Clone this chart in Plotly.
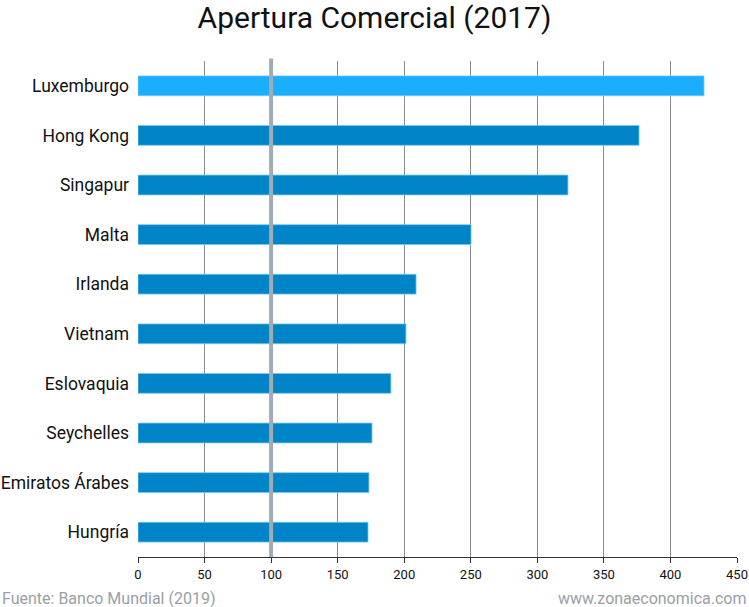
import plotly.graph_objects as go

countries = ["Luxemburgo", "Hong Kong", "Singapur", "Malta", "Irlanda", "Vietnam",
             "Eslovaquia", "Seychelles", "Emiratos Árabes", "Hungría"]
values = [425.2, 376.4, 323.0, 250.2, 208.9, 201.3, 190.0, 175.8, 173.5, 172.8]
bar_colors = ["#1aaeff"] + ["#0084c8"] * 9
tick_vals = [0, 50, 100, 150, 200, 250, 300, 350, 400, 450]
ref_value = 100

fig = go.Figure(go.Bar(
    y=countries, x=values, orientation="h", width=0.4,
    marker=dict(color=bar_colors, line=dict(color="rgba(120,200,240,0.8)", width=1)),
    hoverinfo="x+y",
))

fig.add_shape(type="line", xref="x", yref="paper", x0=ref_value, x1=ref_value,
              y0=0, y1=1.005, line=dict(color="#a3abb2", width=4), layer="above")

fig.update_layout(
    width=749, height=607,
    margin=dict(l=138, r=12, t=61, b=50),
    paper_bgcolor="white", plot_bgcolor="white",
    font=dict(family="Roboto, Liberation Sans, sans-serif", color="#111"),
    title=dict(text="Apertura Comercial (2017)", x=0.5, xanchor="center",
               y=1 - 17/607, yanchor="middle", font=dict(size=30, color="#111")),
    showlegend=False,
    xaxis=dict(range=[0, 450], tickvals=tick_vals, showgrid=True, gridcolor="#8a8a8a",
               gridwidth=1, zeroline=False, showline=True, linecolor="#333", linewidth=1,
               ticks="outside", ticklen=5, tickcolor="#333", automargin=False,
               tickfont=dict(size=13, color="#111")),
    yaxis=dict(categoryorder="array", categoryarray=countries[::-1], range=[-0.5, 9.5],
               showgrid=False, zeroline=False, ticks="", ticklabelstandoff=8,
               automargin=False, tickfont=dict(size=17.5, color="#111")),
    annotations=[
        dict(text="Fuente: Banco Mundial (2019)", xref="paper", yref="paper",
             x=-138/599, y=-41/496, xanchor="left", yanchor="middle", showarrow=False,
             font=dict(size=16, color="#9aa0a6")),
        dict(text="www.zonaeconomica.com", xref="paper", yref="paper",
             x=1 + 12/599, y=-41/496, xanchor="right", yanchor="middle", showarrow=False,
             font=dict(size=16, color="#9aa0a6")),
    ],
)

fig.write_html("out.html")
